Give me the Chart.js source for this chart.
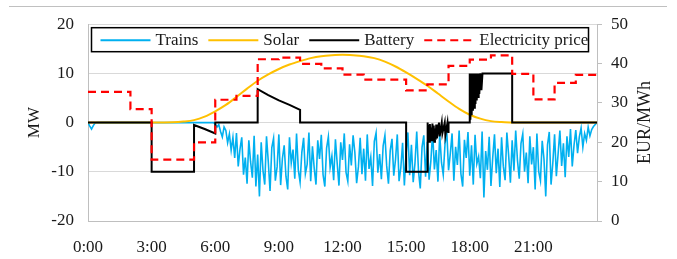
<!DOCTYPE html>
<html>
<head>
<meta charset="utf-8">
<script src="https://cdn.jsdelivr.net/npm/chart.js@4.4.1/dist/chart.umd.min.js"></script>
<style>
  html, body { margin: 0; padding: 0; background: #fff; }
</style>
</head>
<body>
<canvas id="chart" width="677" height="259"></canvas>
<script>
// x ticks (hours) and their labels
const hourTicks = [0, 3, 6, 9, 12, 15, 18, 21];
const hourLabels = ['0:00', '3:00', '6:00', '9:00', '12:00', '15:00', '18:00', '21:00'];

// Trains load, MW, one value every 5 minutes from 0:00 to 24:00
const trainsStepMin = 5;
const trainsMW = [
  0, -0.7, -1.3, -0.6, -0.1, 0, 0, 0, 0, 0, 0, 0,
  0, 0, 0, 0, 0, 0, 0, 0, 0, 0, 0, 0,
  0, 0, 0, 0, 0, 0, 0, 0, 0, 0, 0, 0,
  0, 0, 0, 0, 0, 0, 0, 0, 0, 0, 0, 0,
  0, 0, 0, 0, 0, 0, 0, 0, 0, 0, 0, 0,
  0, 0, 0, 0, 0, 0, 0, 0, 0, 0, 0, 0,
  -0.3, -0.9, -0.4, -1.8, -2.9, -0.9, -1.6, -4.1, -2.3, -5.6, -3.0, -7.2,
  -2.1, -8.9, -5.4, -3.0, -10.6, -7.1, -12.4, -3.6, -8.0, -11.2, -2.7, -13.0,
  -6.5, -15.0, -4.0, -9.7, -12.6, -2.8, -7.9, -13.9, -5.1, -3.2, -11.8, -9.0,
  -2.4, -12.7, -7.3, -4.6, -10.9, -13.6, -3.0, -8.2, -5.5, -11.4, -2.2, -9.6,
  -12.1, -6.0, -3.1, -10.4, -8.5, -2.0, -11.9, -4.8, -9.3, -12.6, -3.6, -7.4,
  -2.5, -10.6, -13.0, -5.2, -2.9, -9.1, -6.8, -11.7, -3.4, -8.3, -12.8, -4.0,
  -7.6, -2.2, -10.1, -11.9, -4.4, -8.7, -2.6, -6.1, -12.3, -9.0, -3.1, -10.5,
  -5.3, -11.8, -2.4, -9.4, -7.0, -12.9, -3.8, -2.1, -10.2, -6.4, -11.5, -4.7,
  -2.6, -8.8, -12.4, -5.7, -3.3, -10.8, -7.5, -2.4, -11.9, -9.2, -4.1, -12.8,
  -6.2, -2.0, -10.7, -4.5, -12.1, -8.3, -1.8, -9.9, -13.4, -5.0, -2.6, -11.0,
  -3.9, -11.6, -7.8, -1.9, -9.5, -5.6, -12.0, -2.3, -8.1, -10.6, -4.4, -1.7,
  -9.7, -6.3, -2.2, -11.8, -4.9, -8.6, -1.6, -10.4, -13.0, -3.5, -7.2, -1.9,
  -10.8, -4.6, -12.6, -2.5, -8.4, -6.9, -11.3, -1.8, -15.2, -5.8, -9.6, -2.9,
  -12.9, -7.1, -2.4, -10.3, -5.3, -13.1, -3.0, -8.9, -11.7, -2.0, -6.6, -12.2,
  -3.6, -9.8, -1.6, -7.7, -11.4, -4.2, -2.3, -10.0, -6.1, -12.3, -2.8, -8.5,
  -5.0, -13.6, -2.2, -9.9, -11.8, -3.7, -7.4, -15.0, -4.5, -1.9, -12.6, -8.2,
  -2.4, -10.9, -6.3, -1.6, -8.8, -4.2, -11.1, -2.8, -7.0, -1.3, -8.9, -4.6,
  -1.5, -6.2, -2.9, -1.1, -5.0, -2.2, -3.6, -0.9, -2.7, -1.4, -0.8, -0.4,
  0
];

// Solar production, MW
const solarHours = [0, 3, 4, 4.5, 5, 5.5, 6, 6.5, 7, 7.5, 8, 8.5, 9, 9.5, 10, 10.5, 11, 11.5, 12,
  12.5, 13, 13.5, 14, 14.5, 15, 15.5, 16, 16.5, 17, 17.5, 18, 18.5, 19, 19.5, 20, 24];
const solarMW = [0, 0, 0.05, 0.2, 0.5, 1.2, 2.3, 3.6, 5.2, 6.9, 8.5, 9.8, 10.9, 11.8, 12.5, 13.1, 13.5, 13.7, 13.8,
  13.7, 13.5, 13.1, 12.4, 11.4, 10.2, 8.9, 7.5, 5.9, 4.3, 2.8, 1.6, 0.8, 0.3, 0.1, 0, 0];

// Battery power, MW
const batteryHours = [
  0, 3, 3, 5, 5, 5.5, 6, 6, 8, 8, 8.5, 9, 9.5, 10, 10, 15, 15, 16, 16,
  16.03, 16.06, 16.09, 16.12, 16.15, 16.18, 16.21, 16.24, 16.27, 16.3, 16.33, 16.36, 16.39, 16.42, 16.45,
  16.55, 16.58, 16.68, 16.71, 16.82, 16.85, 16.95, 16.98, 17,
  18, 18, 18.03, 18.06, 18.09, 18.12, 18.15, 18.18, 18.21, 18.24, 18.27, 18.3, 18.33, 18.36, 18.39, 18.42, 18.45, 18.5, 18.55, 18.6,
  20, 20, 24
];
const batteryMW = [
  0, 0, -10, -10, -0.5, -1.3, -2.2, 0, 0, 6.8, 5.6, 4.5, 3.6, 2.6, 0, 0, -10, -10, 0,
  -3.8, -0.5, -3.9, -0.3, -3.7, -1.0, -3.8, -0.2, -3.6, -0.6, -3.9, -1.2, -3.5, -0.4, -3.2,
  0, -2.8, 0, -2.2, 0, -2.6, 0, -1.9, 0,
  0, 10, 0.6, 10, 1.5, 10, 2.4, 10, 3.0, 10, 3.8, 10, 4.5, 9.8, 5.2, 10, 5.8, 10, 6.6, 10,
  10, 0, 0
];

// Electricity price, EUR/MWh, hourly from 0:00
const priceEUR = [32.8, 32.8, 28.4, 15.6, 15.6, 20.0, 30.8, 31.8, 41.1, 41.5, 39.9, 38.8,
  37.2, 35.9, 35.9, 33.2, 34.7, 39.4, 41.0, 42.1, 37.4, 30.9, 35.1, 37.1];

const serif = "'Liberation Serif', 'Times New Roman', serif";
const tickFont = { family: serif, size: 17 };
const textColor = '#1a1a1a';

const pairs = (xs, ys) => xs.map((x, i) => ({ x: x, y: ys[i] }));

const trainsData = trainsMW.map((v, i) => ({ x: i * trainsStepMin / 60, y: v }));
const priceData = priceEUR.map((v, h) => ({ x: h, y: v }));
priceData.push({ x: 24, y: priceEUR[priceEUR.length - 1] });

// figure frame line, legend box and axis titles
const decor = {
  id: 'decor',
  beforeDraw(chart) {
    const ctx = chart.ctx;
    ctx.save();
    ctx.fillStyle = '#fff';
    ctx.fillRect(0, 0, chart.width, chart.height);
    ctx.strokeStyle = '#c0c0c0';
    ctx.lineWidth = 1;
    ctx.beginPath();
    ctx.moveTo(9, 6.5);
    ctx.lineTo(667, 6.5);
    ctx.stroke();
    ctx.restore();
  },
  afterDatasetsDraw(chart) {
    const ctx = chart.ctx;
    const a = chart.chartArea;
    const boxL = a.left + 3.5, boxT = a.top + 3.5, boxW = 497, boxH = 24;
    ctx.save();
    ctx.fillStyle = '#fff';
    ctx.fillRect(boxL, boxT, boxW, boxH);
    ctx.strokeStyle = '#000';
    ctx.lineWidth = 1.5;
    ctx.strokeRect(boxL, boxT, boxW, boxH);
    ctx.font = '17px ' + serif;
    ctx.textBaseline = 'middle';
    ctx.fillStyle = textColor;
    let x = boxL + 9;
    const y = boxT + boxH / 2 + 0.5;
    chart.data.datasets.forEach(ds => {
      ctx.strokeStyle = ds.borderColor;
      ctx.lineWidth = 2;
      ctx.setLineDash(ds.borderDash || []);
      ctx.beginPath();
      ctx.moveTo(x, y);
      ctx.lineTo(x + 50, y);
      ctx.stroke();
      ctx.setLineDash([]);
      x += 55;
      ctx.fillText(ds.label, x, y);
      x += ctx.measureText(ds.label).width + 10;
    });
    ctx.restore();
  },
  afterDraw(chart) {
    const ctx = chart.ctx;
    const mid = (chart.chartArea.top + chart.chartArea.bottom) / 2;
    ctx.save();
    ctx.fillStyle = textColor;
    ctx.textAlign = 'center';
    ctx.textBaseline = 'middle';
    ctx.translate(35, mid);
    ctx.rotate(-Math.PI / 2);
    ctx.font = '17px ' + serif;
    ctx.fillText('MW', 0, 0);
    ctx.restore();
    ctx.save();
    ctx.fillStyle = textColor;
    ctx.textAlign = 'center';
    ctx.textBaseline = 'middle';
    ctx.translate(645, mid);
    ctx.rotate(-Math.PI / 2);
    ctx.font = '18px ' + serif;
    ctx.fillText('EUR/MWh', 0, 0);
    ctx.restore();
  }
};

new Chart(document.getElementById('chart'), {
  type: 'line',
  data: {
    datasets: [
      {
        label: 'Trains',
        data: trainsData,
        borderColor: '#00b0f0',
        borderWidth: 1.6,
        yAxisID: 'y',
        order: 4
      },
      {
        label: 'Solar',
        data: pairs(solarHours, solarMW),
        borderColor: '#ffc000',
        borderWidth: 2,
        cubicInterpolationMode: 'monotone',
        yAxisID: 'y',
        order: 3
      },
      {
        label: 'Battery',
        data: pairs(batteryHours, batteryMW),
        borderColor: '#000000',
        borderWidth: 2,
        yAxisID: 'y',
        order: 2
      },
      {
        label: 'Electricity price',
        data: priceData,
        borderColor: '#ff0000',
        borderWidth: 2.2,
        borderDash: [8, 5],
        stepped: true,
        yAxisID: 'y1',
        order: 1
      }
    ]
  },
  options: {
    responsive: false,
    animation: false,
    devicePixelRatio: 1,
    layout: { padding: { top: 20, left: 0, right: 0, bottom: 0 } },
    elements: { point: { radius: 0 }, line: { tension: 0 } },
    plugins: {
      legend: { display: false },
      tooltip: { enabled: false }
    },
    scales: {
      x: {
        type: 'linear',
        min: 0,
        max: 24,
        afterBuildTicks: s => { s.ticks = hourTicks.map(v => ({ value: v })); },
        ticks: {
          font: tickFont,
          color: textColor,
          padding: 8,
          maxRotation: 0,
          callback: (v, i) => hourLabels[i]
        },
        grid: { display: false },
        border: { display: true, color: '#bfbfbf' },
        afterFit: s => { s.height = 38; }
      },
      y: {
        position: 'left',
        min: -20,
        max: 20,
        ticks: { stepSize: 10, font: tickFont, color: textColor, padding: 14 },
        grid: { color: '#d9d9d9', drawTicks: false },
        border: { color: '#bfbfbf' },
        afterFit: s => { s.width = 88; }
      },
      y1: {
        position: 'right',
        min: 0,
        max: 50,
        ticks: { stepSize: 10, font: tickFont, color: textColor, padding: 9 },
        grid: { drawOnChartArea: false, color: '#bfbfbf', tickLength: 5 },
        border: { color: '#bfbfbf' },
        afterFit: s => { s.width = 80; }
      }
    }
  },
  plugins: [decor]
});
</script>
</body>
</html>
